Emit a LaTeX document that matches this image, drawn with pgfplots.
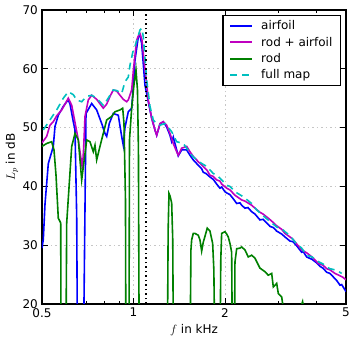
\documentclass[border=0pt]{standalone}
\usepackage{fontspec}
\setmainfont{DejaVu Sans}
\usepackage{pgfplots}
\pgfplotsset{compat=1.18}
\definecolor{mplb}{rgb}{0,0,1}
\definecolor{mplm}{rgb}{0.75,0,0.75}
\definecolor{mplg}{rgb}{0,0.5,0}
\definecolor{mplc}{rgb}{0,0.75,0.75}
\begin{document}
\fontsize{12}{14}\selectfont
\begin{tikzpicture}
\begin{axis}[
  scale only axis, width=304pt, height=294pt,
  xmode=log, xmin=0.5, xmax=5, ymin=20, ymax=70,
  xtick={0.5,1,2,5}, xticklabels={0.5,1,2,5},
  minor xtick={0.6,0.7,0.8,0.9,3,4},
  ytick={20,30,40,50,60,70},
  /pgf/number format/assume math mode=true,
  tick align=inside,
  major tick length=6pt, minor tick length=3pt,
  every tick/.style={black, line width=0.8pt},
  xmajorgrids, ymajorgrids,
  major grid style={gray!45, dash pattern=on 1.5pt off 3pt, line width=0.6pt},
  axis line style={line width=1.2pt},
  tick label style={font=\fontsize{12}{14}\selectfont},
  xlabel={$f$ in kHz}, ylabel={$L_p$ in dB},
  every axis x label/.style={at={(axis description cs:0.5,-0.088)}, anchor=center, font=\fontsize{12}{14}\selectfont},
  every axis y label/.style={at={(axis description cs:-0.099,0.5)}, anchor=center, rotate=90, font=\fontsize{12}{14}\selectfont},
  legend style={at={(0.9836,0.983)}, anchor=north east, draw=black, line width=1.2pt,
    font=\fontsize{12}{14}\selectfont, row sep=1.5pt, column sep=6pt, inner xsep=6pt, inner ysep=3pt},
  legend cell align=left,
  legend image code/.code={\draw[#1, line width=2pt] (0cm,0cm) -- (0.78cm,0cm);},
]
% airfoil
\addplot[mplb, line width=1.6pt] coordinates {
(0.5,29.5)(0.505,31.0)(0.5115,37.0)(0.5245,43.9)(0.5447,46.8)(0.5517,50.2)(0.5657,52.1)(0.5876,53.6)(0.6029,54.4)(0.6102,54.7)(0.6182,54.0)(0.6338,51.0)(0.642,49.6)(0.6503,35.0)(0.6545,10)
(0.684,10)(0.6978,52.4)(0.7285,54.1)(0.7566,53.0)(0.7859,50.7)(0.8057,49.0)(0.8162,48.5)(0.8324,50.7)(0.858,52.4)(0.8911,52.1)(0.9143,48.5)(0.9255,47.0)(0.9375,50.0)(0.9612,52.7)(0.9862,53.3)(1.0,57.5)(1.0112,61.5)(1.0368,65.4)(1.0502,65.7)(1.0638,64.3)(1.0907,57.2)(1.1184,54.4)(1.1476,51.6)(1.1766,49.6)(1.1918,48.7)(1.222,50.6)(1.2529,51.0)(1.2856,50.1)(1.3181,48.7)(1.3352,47.6)(1.3515,48.4)(1.3867,46.2)(1.4036,45.2)(1.4402,46.2)(1.4958,46.2)(1.5336,45.3)(1.5724,44.5)
(1.6331,43.6)(1.6757,43.0)(1.6961,42.4)(1.731,42.2)(1.7844,41.6)(1.8296,41.2)(1.8773,40.4)(1.9248,39.7)(1.9497,39.9)(1.999,39.1)(2.025,38.9)(2.0762,38.6)(2.1287,37.9)(2.1842,37.1)(2.2395,37.2)(2.2685,36.8)(2.3259,36.3)(2.3795,36.4)(2.447,35.7)(2.5089,35.3)(2.6057,34.3)(2.667,34.4)(2.7412,33.8)(2.8117,33.2)(2.8829,33.0)(2.958,32.4)(3.0722,31.9)(3.15,31.4)(3.2715,30.7)(3.3466,30.6)(3.4419,29.9)(3.5746,28.8)(3.6182,28.9)(3.7126,28.0)(3.865,27.6)(4.0048,27.0)(4.1061,26.4)(4.2015,26.1)(4.32,25.4)(4.43,25.2)(4.5998,24.3)(4.6594,24.0)(4.7778,23.2)(4.8397,23.3)(4.962,22.4)(5.0,22.1)
};
\addlegendentry{airfoil}
% rod + airfoil
\addplot[mplm, line width=1.6pt] coordinates {
(0.5,47.4)(0.518,48.5)(0.531,50.4)(0.5447,51.0)(0.5589,52.0)(0.5805,53.0)(0.5952,54.0)(0.6102,55.0)(0.6262,53.8)(0.6338,52.4)(0.6583,47.9)(0.6754,43.9)(0.679,43.0)(0.6855,46.5)(0.6925,51.9)(0.71,54.7)(0.7285,55.5)(0.7566,54.8)(0.7954,53.3)(0.8162,54.0)(0.8368,55.3)(0.858,56.4)(0.8804,56.2)(0.9027,55.5)(0.9255,54.8)(0.9496,54.4)(0.9612,54.7)(0.9862,56.4)(1.0,60.0)(1.0245,64.9)(1.044,65.9)(1.0502,66.0)(1.0663,64.9)(1.0907,59.8)(1.1049,57.5)(1.1184,54.7)(1.1476,51.6)(1.1766,49.6)(1.1918,48.7)(1.222,50.7)(1.2529,51.0)(1.2856,50.4)(1.3181,49.0)(1.3515,47.3)(1.3867,45.9)(1.4036,45.3)(1.4402,46.5)(1.4958,46.8)(1.5336,45.9)(1.5724,45.1)
(1.6331,44.2)(1.6961,43.4)(1.7482,42.7)(1.7844,41.9)(1.8296,41.7)(1.8773,41.1)(1.9248,40.9)(1.9497,40.4)(2.025,39.7)(2.0762,39.4)(2.1563,38.5)(2.2685,37.7)(2.3259,37.5)(2.447,36.8)(2.5089,36.3)(2.6057,35.6)(2.667,35.3)(2.7747,34.6)(2.8481,34.1)(2.958,33.3)(3.0722,32.7)(3.15,32.0)(3.2715,31.4)(3.3466,31.0)(3.4419,30.2)(3.5746,29.2)(3.7126,28.7)(3.865,28.0)(4.0536,26.9)(4.2015,26.6)(4.32,26.0)(4.43,25.8)(4.5998,25.2)(4.7778,24.8)(4.9,24.5)(5.0,24.1)
};
\addlegendentry{rod + airfoil}
% rod
\addplot[mplg, line width=1.6pt] coordinates {
(0.5,46.8)(0.518,47.3)(0.538,47.6)(0.5476,46.2)(0.556,41.9)(0.5657,34.6)(0.5761,33.8)(0.578,10)(0.599,10)(0.6029,33.8)(0.6262,46.8)(0.642,49.0)(0.6583,47.9)(0.6754,41.1)(0.7015,47.9)(0.7192,47.6)(0.7374,45.9)(0.747,47.0)(0.7566,44.5)(0.7758,46.8)(0.8162,51.3)(0.8477,51.9)(0.8691,52.7)(0.9027,53.0)(0.9213,53.3)(0.9304,50.7)(0.941,37.7)(0.944,10)
(0.966,10)(0.970,47.9)(0.9862,53.3)(1.003,57.2)(1.0189,59.8)(1.0305,56.4)(1.038,46.2)(1.044,10)
(1.2915,10)(1.30,32.6)(1.3082,38.8)(1.318,38.4)(1.3352,37.2)(1.346,30.9)(1.3535,10)
(1.5336,10)(1.545,29.2)(1.5535,30.9)(1.5724,32.0)(1.5928,32.0)(1.6331,31.7)(1.6543,30.9)(1.6757,29.0)(1.6961,30.5)(1.7181,31.5)(1.7482,32.9)(1.7844,32.4)(1.8212,30.3)(1.838,25.8)(1.8533,10)
(1.9248,10)(1.937,27.5)(1.9497,32.0)(1.999,32.3)(2.025,31.9)(2.0496,31.4)(2.0762,30.3)(2.1031,28.8)(2.116,10)
(2.147,10)(2.1563,27.1)(2.1842,29.4)(2.2395,29.5)(2.2685,29.7)(2.3259,29.2)(2.3847,28.0)(2.447,28.3)(2.5089,27.8)(2.6057,26.1)(2.7062,25.5)(2.7747,24.9)(2.8481,25.2)(2.8829,22.9)(2.958,23.5)(2.9941,21.8)(3.0722,21.2)(3.1096,19.3)(3.27,17)(3.5,18.5)(3.6,20.4)(3.65,18.5)(4.0,16)(5.0,14)
};
\addlegendentry{rod}
% full map
\addplot[mplc, line width=1.6pt, dash pattern=on 7pt off 5pt] coordinates {
(0.505,49.6)(0.531,51.3)(0.5589,53.0)(0.5876,55.0)(0.6102,56.1)(0.6338,55.6)(0.6503,54.7)(0.6754,54.4)(0.7015,55.3)(0.7285,55.5)(0.7566,55.0)(0.7954,53.8)(0.8162,54.6)(0.858,56.4)(0.8804,56.3)(0.9143,55.8)(0.9375,57.8)(0.9612,58.6)(0.9736,60.6)(0.9983,63.2)(1.0112,63.8)(1.0502,66.6)(1.0638,66.9)(1.0768,65.5)(1.1049,58.1)(1.1329,53.6)(1.1615,51.3)(1.1766,51.0)(1.222,50.4)(1.2692,50.7)(1.3352,49.3)(1.3867,47.6)(1.4578,47.3)(1.4958,46.5)(1.5535,45.3)
(1.6134,44.5)(1.6757,43.9)(1.7403,43.4)(1.8296,42.2)(1.8773,41.9)(1.9248,41.4)(2.025,40.2)(2.0762,40.0)(2.1563,39.1)(2.2685,38.4)(2.3259,38.0)(2.447,37.1)(2.5414,36.0)(2.6057,35.5)(2.7412,34.5)(2.8481,33.8)(2.958,33.1)(3.0722,32.8)(3.15,32.3)(3.2715,31.6)(3.4419,30.2)(3.5746,29.5)(3.7126,28.3)(3.865,28.0)(4.0536,27.2)(4.2015,26.8)(4.32,26.3)(4.43,26.0)(4.5998,25.8)(4.7,25.6)(4.8397,25.2)
};
\addlegendentry{full map}
\addplot[black, line width=1.6pt, dash pattern=on 1.6pt off 2.9pt, forget plot] coordinates {(1.097,20)(1.097,70)};
\end{axis}
\pgfresetboundingbox
\path ([shift={(-42pt,-34pt)}]current axis.south west) rectangle ([shift={(8pt,10pt)}]current axis.north east);
\end{tikzpicture}
\end{document}
